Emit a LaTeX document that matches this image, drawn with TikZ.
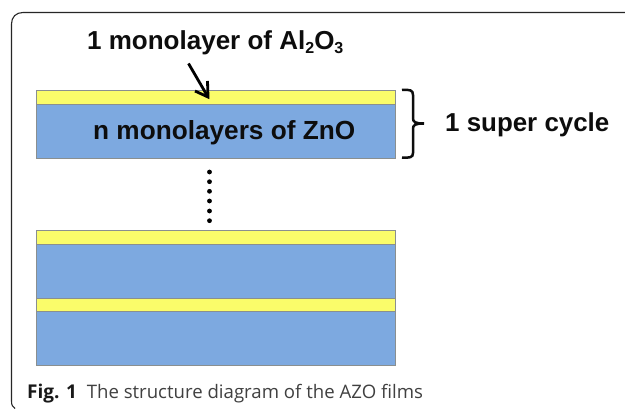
\documentclass[tikz,border=0pt]{standalone}
\usepackage{fontspec}
\setmainfont{Liberation Sans}
\newfontfamily\capfont{Open Sans}
\usetikzlibrary{arrows.meta}
\definecolor{yel}{HTML}{FAFC6A}
\definecolor{blu}{HTML}{7DA9E0}
\definecolor{edgeg}{HTML}{8A8F8F}
\newcommand{\subtxt}[1]{\raisebox{-4pt}{\fontsize{16}{18}\selectfont #1}}
\tikzset{
  x=1pt,y=-1pt,
  yellowlayer/.style={draw=edgeg,fill=yel,line width=0.9pt,minimum width=359pt,minimum height=14pt,inner sep=0pt,outer sep=0pt,anchor=north west},
  bluelayer/.style={draw=edgeg,fill=blu,line width=0.9pt,minimum width=359pt,minimum height=54pt,inner sep=0pt,outer sep=0pt,anchor=north west},
  label/.style={inner sep=0pt,anchor=base west,text=black!95},
  dotmark/.style={circle,fill=black,inner sep=0pt,minimum size=4.8pt},
}
\begin{document}
\begin{tikzpicture}
\useasboundingbox (0,0) rectangle (625,409);
\fill[white] (0,0) rectangle (625,409);
\draw[line width=1.1pt,black!85] (625,12.5) -- (23,12.5) .. controls (16,12.5) and (11.5,17) .. (11.5,24) -- (11.5,401) .. controls (11.5,405) and (12.5,407) .. (15,408.5);
\node[bluelayer] (b1) at (36,104) {};
\node[yellowlayer] (y1) at (36,90) {};
\node[bluelayer] (b2) at (36,244) {};
\node[yellowlayer] (y2) at (36,230.5) {};
\node[bluelayer] (b3) at (36,311) {};
\node[yellowlayer,minimum height=13pt] (y3) at (36,298) {};
\node[label,font=\bfseries\fontsize{26}{29}\selectfont] (t1) at (87,49.5) {1 monolayer of Al\subtxt{2}O\subtxt{3}};
\node[label,font=\bfseries\fontsize{26.2}{29}\selectfont] (t2) at (93,139.5) {n monolayers of ZnO};
\node[label,font=\bfseries\fontsize{25.9}{29}\selectfont] (t3) at (445,132) {1 super cycle};
\node[label,font=\capfont\fontsize{18.6}{23}\selectfont,text=black!75] (cap) at (27,398.5) {{\bfseries\color{black!90}\fontsize{19}{23}\selectfont Fig. 1}\hspace{5pt} The structure diagram of the AZO films};
\coordinate (a0) at (188.5,63.5);
\coordinate (a1) at (208,97);
\draw[line width=2.8pt,black] (a0) -- (a1);
\draw[line width=2.8pt,black,line join=miter] (195,91) -- (a1) -- (207.5,81);
\foreach \i/\yy in {1/172,2/181.7,3/191.3,4/201,5/211,6/220.7}{
  \node[dotmark] (d\i) at (209.5,\yy) {};
}
\draw[line width=2.5pt,black!95] (402,90) .. controls (410,89.5) and (413,90) .. (413,95) -- (413,118) .. controls (413,122) and (415,123.5) .. (424,123.5) .. controls (415,123.5) and (413,125) .. (413,129) -- (413,153) .. controls (413,157.5) and (410,158) .. (402,157.5);
\end{tikzpicture}
\end{document}
